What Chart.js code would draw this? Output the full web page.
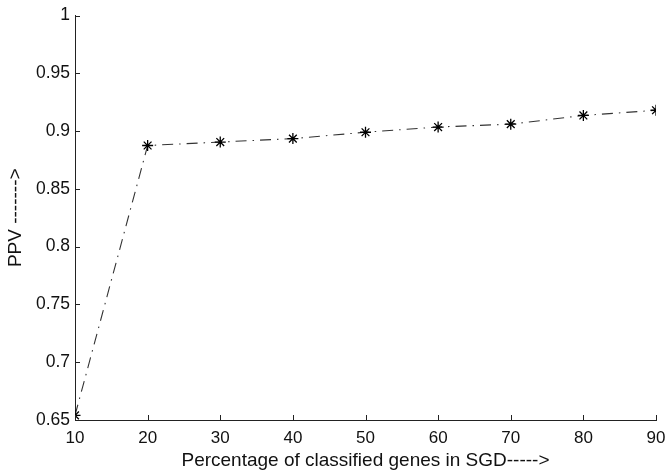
<!DOCTYPE html>
<html>
<head>
<meta charset="utf-8">
<script src="https://cdn.jsdelivr.net/npm/chart.js@4.4.1/dist/chart.umd.min.js"></script>
<style>
  html, body { margin: 0; padding: 0; background: #fff; }
  #wrap { width: 666px; height: 470px; position: relative; }
</style>
</head>
<body>
<div id="wrap"><canvas id="c"></canvas></div>
<script>
// data
const percentClassified = [10, 20, 30, 40, 50, 60, 70, 80, 90];
const ppvValues = [0.654, 0.8875, 0.8905, 0.8935, 0.899, 0.9035, 0.906, 0.9135, 0.918];
const xTicks = [10, 20, 30, 40, 50, 60, 70, 80, 90];
const yTicks = [0.65, 0.7, 0.75, 0.8, 0.85, 0.9, 0.95, 1];
const xTitle = 'Percentage of classified genes in SGD----->';
const yTitle = 'PPV ------->';

const FONT = 'Liberation Sans, Arial, Helvetica, sans-serif';

// small inward ticks, matlab style
const inwardTicks = {
  id: 'inwardTicks',
  afterDraw(chart) {
    const { ctx, chartArea, scales } = chart;
    ctx.save();
    ctx.strokeStyle = '#222';
    ctx.lineWidth = 1;
    ctx.beginPath();
    scales.x.ticks.forEach(t => {
      const px = Math.round(scales.x.getPixelForValue(t.value)) + 0.5;
      ctx.moveTo(px, chartArea.bottom);
      ctx.lineTo(px, chartArea.bottom - 5);
    });
    scales.y.ticks.forEach(t => {
      const py = Math.round(scales.y.getPixelForValue(t.value)) + 0.5;
      ctx.moveTo(chartArea.left, py);
      ctx.lineTo(chartArea.left + 5, py);
    });
    ctx.stroke();
    ctx.restore();
  }
};

new Chart(document.getElementById('c'), {
  type: 'line',
  data: {
    datasets: [{
      data: percentClassified.map((x, i) => ({ x: x, y: ppvValues[i] })),
      borderColor: '#333',
      borderWidth: 1.1,
      borderDash: [11, 6, 1.5, 6],
      pointStyle: 'star',
      pointRadius: 5.5,
      pointBorderColor: '#000',
      pointBorderWidth: 1.3,
      pointBackgroundColor: '#000',
      fill: false,
      tension: 0
    }]
  },
  options: {
    responsive: true,
    maintainAspectRatio: false,
    animation: false,
    layout: { padding: { top: 14, right: 10, bottom: 0, left: 0 } },
    plugins: {
      legend: { display: false },
      tooltip: { enabled: false }
    },
    scales: {
      x: {
        type: 'linear',
        min: 10,
        max: 90,
        afterBuildTicks: s => { s.ticks = xTicks.map(v => ({ value: v })); },
        afterFit: s => { s.height = 50; s.paddingLeft = 0; s.paddingRight = 0; },
        grid: { drawOnChartArea: false, drawTicks: false },
        border: { color: '#222', width: 1 },
        ticks: {
          color: '#111',
          padding: 8,
          maxRotation: 0,
          font: { family: FONT, size: 17 },
          callback: v => String(v)
        },
        title: {
          display: true,
          text: xTitle,
          color: '#111',
          font: { family: FONT, size: 19, lineHeight: 1 },
          padding: { top: 0, bottom: 0 }
        }
      },
      y: {
        min: 0.65,
        max: 1,
        afterBuildTicks: s => { s.ticks = yTicks.map(v => ({ value: v })); },
        afterFit: s => { s.width = 75; },
        grid: { drawOnChartArea: false, drawTicks: false },
        border: { color: '#222', width: 1 },
        ticks: {
          color: '#111',
          padding: 5,
          font: { family: FONT, size: 17.5 },
          callback: v => String(+v.toFixed(2))
        },
        title: {
          display: true,
          text: yTitle,
          color: '#111',
          font: { family: FONT, size: 19, lineHeight: 1 },
          padding: { top: 6, bottom: 0 }
        }
      }
    }
  },
  plugins: [inwardTicks]
});
</script>
</body>
</html>
